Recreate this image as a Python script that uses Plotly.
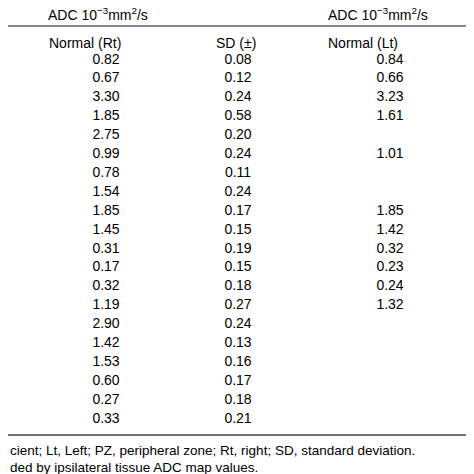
import plotly.graph_objects as go

# 表のデータ
normal_rt = ["0.82", "0.67", "3.30", "1.85", "2.75", "0.99", "0.78", "1.54", "1.85", "1.45",
             "0.31", "0.17", "0.32", "1.19", "2.90", "1.42", "1.53", "0.60", "0.27", "0.33"]
sd = ["0.08", "0.12", "0.24", "0.58", "0.20", "0.24", "0.11", "0.24", "0.17", "0.15",
      "0.19", "0.15", "0.18", "0.27", "0.24", "0.13", "0.16", "0.17", "0.18", "0.21"]
normal_lt = ["0.84", "0.66", "3.23", "1.61", "", "1.01", "", "", "1.85", "1.42",
             "0.32", "0.23", "0.24", "1.32", "", "", "", "", "", ""]
headers = ["Normal (Rt)", "SD (±)", "Normal (Lt)"]
footnotes = ["cient; Lt, Left; PZ, peripheral zone; Rt, right; SD, standard deviation.",
             "ded by ipsilateral tissue ADC map values."]

FONT = dict(family="Liberation Sans, Arial, sans-serif", size=14, color="#000")
row_y = [58 + i * 18.9 for i in range(len(normal_rt))]

fig = go.Figure()
for xc, col in [(98, normal_rt), (230, sd), (382, normal_lt)]:
    fig.add_trace(go.Scatter(x=[xc] * len(col), y=row_y, text=col, mode="text",
                             textfont=FONT, hoverinfo="skip", showlegend=False))

ann = []
for x, t in [(38, "ADC 10<sup>−3</sup>mm<sup>2</sup>/s"), (318, "ADC 10<sup>−3</sup>mm<sup>2</sup>/s")]:
    ann.append(dict(x=x, y=12, text=t, xanchor="left", yanchor="middle", showarrow=False, font=FONT))
for x, t in [(39, headers[0]), (206, headers[1]), (318, headers[2])]:
    ann.append(dict(x=x, y=41, text=t, xanchor="left", yanchor="middle", showarrow=False, font=FONT))
for y, t in [(448, footnotes[0]), (465, footnotes[1])]:
    ann.append(dict(x=0, xref="paper", y=y, text=t, xanchor="left", yanchor="middle",
                    showarrow=False, font=dict(FONT, size=13.5)))

fig.update_layout(
    width=474, height=474, margin=dict(l=0, r=0, t=0, b=0),
    plot_bgcolor="white", paper_bgcolor="white",
    xaxis=dict(range=[0, 474], visible=False, fixedrange=True),
    yaxis=dict(range=[480, 6], visible=False, fixedrange=True),
    annotations=ann,
    shapes=[
        dict(type="line", x0=0, x1=474, y0=24, y1=24, line=dict(color="#888", width=2)),
        dict(type="line", x0=0, x1=474, y0=433, y1=433, line=dict(color="#444", width=1.5)),
    ],
)
fig.write_html("out.html")
